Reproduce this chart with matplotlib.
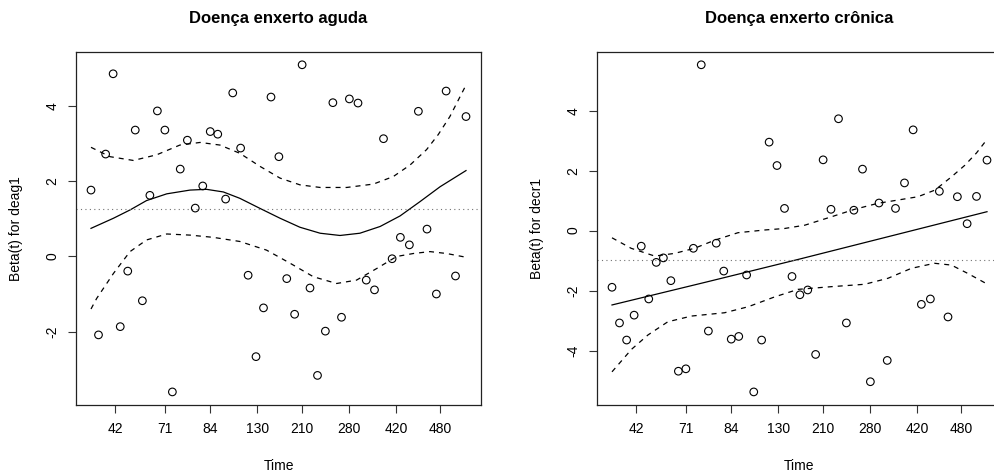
import numpy as np
import matplotlib
matplotlib.use('Agg')
import matplotlib.pyplot as plt

plt.rcParams['font.family'] = ['Liberation Sans', 'DejaVu Sans']
plt.rcParams['axes.unicode_minus'] = False

## Data (transformed time scale, 0..1)
time_rank = [0.000, 0.020, 0.039, 0.059, 0.078, 0.098, 0.118, 0.137, 0.157, 0.177,
             0.197, 0.217, 0.238, 0.257, 0.278, 0.298, 0.318, 0.338, 0.359, 0.378,
             0.399, 0.419, 0.440, 0.460, 0.480, 0.501, 0.522, 0.543, 0.563, 0.584,
             0.604, 0.625, 0.645, 0.668, 0.689, 0.712, 0.734, 0.756, 0.780, 0.803,
             0.825, 0.849, 0.873, 0.896, 0.921, 0.947, 0.972, 1.000]

deag1_resid = [1.77, -2.09, 2.73, 4.87, -1.87, -0.39, 3.37, -1.18, 1.63, 3.88,
               3.37, -3.61, 2.33, 3.10, 1.29, 1.88, 3.33, 3.26, 1.53, 4.36,
               2.89, -0.50, -2.67, -1.37, 4.25, 2.66, -0.59, -1.54, 5.11, -0.84,
               -3.17, -1.99, 4.10, -1.62, 4.20, 4.09, -0.63, -0.89, 3.14, -0.06,
               0.51, 0.31, 3.87, 0.73, -1.00, 4.41, -0.52, 3.73]

decr1_resid = [-1.89, -3.08, -3.65, -2.82, -0.52, -2.28, -1.06, -0.91, -1.67, -4.69,
               -4.61, -0.59, 5.53, -3.35, -0.42, -1.35, -3.62, -3.53, -1.48, -5.38,
               -3.65, 2.95, 2.17, 0.74, -1.53, -2.14, -1.98, -4.13, 2.36, 0.71,
               3.73, -3.08, 0.68, 2.05, -5.04, 0.92, -4.33, 0.74, 1.59, 3.36,
               -2.46, -2.28, 1.31, -2.88, 1.13, 0.23, 1.14, 2.35]

# smooth fit + confidence band, deag1
deag1_fit_x = [0, 0.060, 0.104, 0.148, 0.202, 0.264, 0.308, 0.353, 0.397, 0.451,
               0.504, 0.557, 0.611, 0.664, 0.717, 0.771, 0.824, 0.877, 0.931, 1.0]
deag1_fit = [0.75, 1.02, 1.24, 1.49, 1.67, 1.77, 1.79, 1.72, 1.55, 1.28,
             1.02, 0.78, 0.62, 0.56, 0.62, 0.80, 1.08, 1.46, 1.86, 2.29]
deag1_up_x = [0, 0.051, 0.113, 0.175, 0.237, 0.291, 0.344, 0.397, 0.451, 0.504,
              0.557, 0.611, 0.682, 0.753, 0.806, 0.851, 0.895, 0.926, 0.957, 1.0]
deag1_up = [2.91, 2.66, 2.56, 2.71, 2.97, 3.04, 2.97, 2.75, 2.40, 2.09,
            1.91, 1.84, 1.84, 1.93, 2.13, 2.44, 2.85, 3.25, 3.73, 4.57]
deag1_lo_x = [0, 0.015, 0.060, 0.104, 0.148, 0.202, 0.264, 0.326, 0.397, 0.468,
              0.531, 0.593, 0.655, 0.708, 0.762, 0.815, 0.860, 0.904, 0.948, 1.0]
deag1_lo = [-1.40, -1.12, -0.45, 0.13, 0.44, 0.60, 0.57, 0.51, 0.40, 0.17,
            -0.18, -0.54, -0.72, -0.63, -0.32, 0.00, 0.08, 0.13, 0.08, -0.02]
deag1_coef = 1.26

# smooth fit + confidence band, decr1
decr1_fit_x = [0, 0.25, 0.5, 0.75, 1.0]
decr1_fit = [-2.48, -1.72, -0.95, -0.16, 0.63]
decr1_up_x = [0, 0.051, 0.114, 0.167, 0.220, 0.274, 0.336, 0.407, 0.460, 0.514,
              0.585, 0.647, 0.709, 0.763, 0.816, 0.861, 0.905, 0.941, 0.972, 1.0]
decr1_up = [-0.24, -0.59, -0.85, -0.76, -0.59, -0.32, -0.07, 0.02, 0.07, 0.18,
            0.46, 0.71, 0.91, 1.02, 1.13, 1.35, 1.79, 2.18, 2.59, 3.04]
decr1_lo_x = [0, 0.052, 0.096, 0.149, 0.212, 0.300, 0.363, 0.434, 0.496, 0.585,
              0.674, 0.736, 0.798, 0.860, 0.905, 0.949, 1.0]
decr1_lo = [-4.71, -3.96, -3.48, -3.04, -2.85, -2.74, -2.54, -2.21, -1.96, -1.87,
            -1.79, -1.59, -1.26, -1.09, -1.15, -1.43, -1.78]
decr1_coef = -0.98

tick_pos = [0.064, 0.197, 0.317, 0.443, 0.563, 0.689, 0.814, 0.931]
tick_labels = ['42', '71', '84', '130', '210', '280', '420', '480']

panels = [
    ('Doença enxerto aguda', 'Beta(t) for deag1', deag1_resid,
     deag1_fit_x, deag1_fit, deag1_up_x, deag1_up, deag1_lo_x, deag1_lo,
     deag1_coef, [-2, 0, 2, 4]),
    ('Doença enxerto crônica', 'Beta(t) for decr1', decr1_resid,
     decr1_fit_x, decr1_fit, decr1_up_x, decr1_up, decr1_lo_x, decr1_lo,
     decr1_coef, [-4, -2, 0, 2, 4]),
]

## Plot
W, H = 994, 476
fig = plt.figure(figsize=(W / 100, H / 100), dpi=100)
lefts = [76, 597]

for left, (title, ylab, resid, fx, fy, ux, uy, lx, ly, coef, yticks) in zip(lefts, panels):
    ax = fig.add_axes([left / W, (H - 405) / H, 405 / W, 353.3 / H])

    ax.scatter(time_rank, resid, s=30, facecolors='none', edgecolors='black',
               linewidths=0.8, zorder=3)
    ax.plot(fx, fy, color='black', lw=0.9)
    ax.plot(ux, uy, color='black', lw=0.9, linestyle=(0, (4, 4)))
    ax.plot(lx, ly, color='black', lw=0.9, linestyle=(0, (4, 4)))
    ax.axhline(coef, color='0.45', lw=0.8, linestyle=(0, (1, 3)))

    # R style 4% padding
    lo = min(resid)
    hi = max(resid)
    pad = (hi - lo) * 0.04
    ax.set_ylim(lo - pad, hi + pad)
    ax.set_xlim(-0.04, 1.04)

    ax.set_xticks(tick_pos)
    ax.set_xticklabels(tick_labels)
    ax.set_yticks(yticks)
    ax.set_yticklabels([str(v) for v in yticks], rotation=90, va='center')
    ax.tick_params(axis='both', labelsize=10, length=6, width=0.8, color='#333333')
    ax.tick_params(axis='x', pad=6)
    ax.tick_params(axis='y', pad=6)
    for sp in ax.spines.values():
        sp.set_linewidth(0.9)
        sp.set_color('#222222')

    ax.set_title(title, fontsize=12, fontweight='bold', pad=20.5)
    ax.set_xlabel('Time', fontsize=10)
    ax.set_ylabel(ylab, fontsize=10)
    ax.xaxis.set_label_coords(0.5, -0.153)
    ax.yaxis.set_label_coords(-0.131, 0.5)

fig.savefig('out.png', dpi=100)
